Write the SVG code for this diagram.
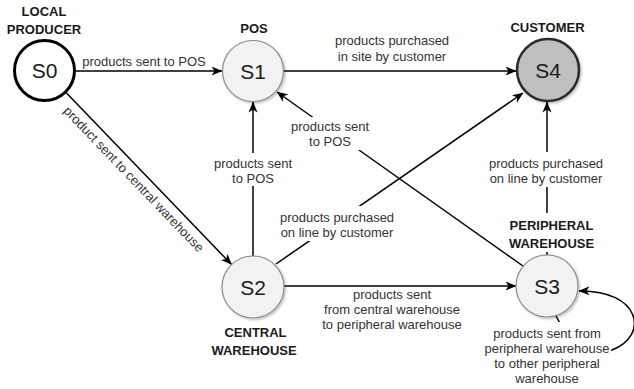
<svg xmlns="http://www.w3.org/2000/svg" width="634" height="389" viewBox="0 0 634 389">
<style>
.edge{fill:none;stroke:#000;stroke-width:1.5}
.lbl{font-family:"Liberation Sans",Arial,sans-serif;font-size:13px;fill:#333;text-anchor:middle}
.ttl{font-family:"Liberation Sans",Arial,sans-serif;font-size:13px;font-weight:bold;fill:#1a1a1a;text-anchor:middle}
.st{font-family:"Liberation Sans",Arial,sans-serif;font-size:21px;fill:#1a1a1a;text-anchor:middle}
.bg{fill:#fff}
.light{fill:#f2f2f2;stroke:#8a8a8a;stroke-width:1.2}
</style>
<defs>
<marker id="arr" viewBox="0 0 11 10" markerWidth="11" markerHeight="10" refX="10.5" refY="5" orient="auto" markerUnits="userSpaceOnUse">
<path d="M0,0.5 L11,5 L0,9.5 L3,5 Z" fill="#000"/>
</marker>
<filter id="sh" x="-20%" y="-20%" width="150%" height="150%">
<feDropShadow dx="1.5" dy="1.5" stdDeviation="1.2" flood-color="#000" flood-opacity="0.25"/>
</filter>
</defs>
<rect width="634" height="389" fill="#fff"/>
<g id="connectors">
<path class="edge" d="M76 71 L222 71" marker-end="url(#arr)"/>
<path class="edge" d="M284 71 L516 71" marker-end="url(#arr)"/>
<path class="edge" d="M66.5 93 L231.5 264.5" marker-end="url(#arr)"/>
<path class="edge" d="M253 256 L253 102" marker-end="url(#arr)"/>
<path class="edge" d="M276 264 L523 93" marker-end="url(#arr)"/>
<path class="edge" d="M523 266 L277 92" marker-end="url(#arr)"/>
<path class="edge" d="M547 255 L547 102" marker-end="url(#arr)"/>
<path class="edge" d="M284 286 L516 286" marker-end="url(#arr)"/>
<path class="edge" d="M556 316 Q575 355 612 350 C650 335 640 290 579 291" marker-end="url(#arr)"/>
</g>
<g id="edge-labels">
<text class="lbl" x="144" y="66">products sent to POS</text>
<text class="lbl" x="392" y="45">products purchased</text>
<text class="lbl" x="392" y="61">in site by customer</text>
<rect class="bg" x="288" y="117" width="84" height="33"/>
<text class="lbl" x="330" y="131">products sent</text>
<text class="lbl" x="330" y="146">to POS</text>
<rect class="bg" x="212" y="153" width="82" height="33"/>
<text class="lbl" x="253" y="168">products sent</text>
<text class="lbl" x="253" y="183">to POS</text>
<rect class="bg" x="278" y="206" width="118" height="35"/>
<text class="lbl" x="337" y="222">products purchased</text>
<text class="lbl" x="337" y="237">on line by customer</text>
<rect class="bg" x="486" y="152" width="120" height="35"/>
<text class="lbl" x="546" y="168">products purchased</text>
<text class="lbl" x="546" y="183">on line by customer</text>
<text class="lbl" x="392" y="299">products sent</text>
<text class="lbl" x="392" y="314">from central warehouse</text>
<text class="lbl" x="392" y="329">to peripheral warehouse</text>
<rect class="bg" x="484" y="322" width="127" height="67"/>
<text class="lbl" x="547" y="338">products sent from</text>
<text class="lbl" x="547" y="353">peripheral warehouse</text>
<text class="lbl" x="547" y="368">to other peripheral</text>
<text class="lbl" x="547" y="383">warehouse</text>
<text class="lbl" transform="translate(133.5 179.5) rotate(46.2)" y="4">product sent to central warehouse</text>
</g>
<g id="S0">
<circle cx="44.5" cy="70.5" r="30" fill="#fff" stroke="#000" stroke-width="3"/>
<text class="st" x="44.5" y="78">S0</text>
<text class="ttl" x="44" y="15.5">LOCAL</text>
<text class="ttl" x="44" y="33.5">PRODUCER</text>
</g>
<g id="S1">
<circle class="light" cx="253" cy="71" r="30.5" filter="url(#sh)"/>
<text class="st" x="253" y="78.5">S1</text>
<text class="ttl" x="254" y="33">POS</text>
</g>
<g id="S4">
<circle cx="548" cy="70" r="31" fill="#bfbfbf" stroke="#2a2a2a" stroke-width="2.5" filter="url(#sh)"/>
<text class="st" x="548" y="77.5">S4</text>
<text class="ttl" x="547.5" y="32">CUSTOMER</text>
</g>
<g id="S2">
<circle class="light" cx="253" cy="287" r="31" filter="url(#sh)"/>
<text class="st" x="253" y="294.5">S2</text>
<text class="ttl" x="255.5" y="337">CENTRAL</text>
<text class="ttl" x="254" y="355">WAREHOUSE</text>
</g>
<g id="S3">
<circle class="light" cx="547" cy="286" r="31" filter="url(#sh)"/>
<text class="st" x="547" y="293.5">S3</text>
<rect class="bg" x="506" y="213" width="92" height="39"/>
<text class="ttl" x="551.5" y="230">PERIPHERAL</text>
<text class="ttl" x="551.5" y="248">WAREHOUSE</text>
</g>
</svg>
